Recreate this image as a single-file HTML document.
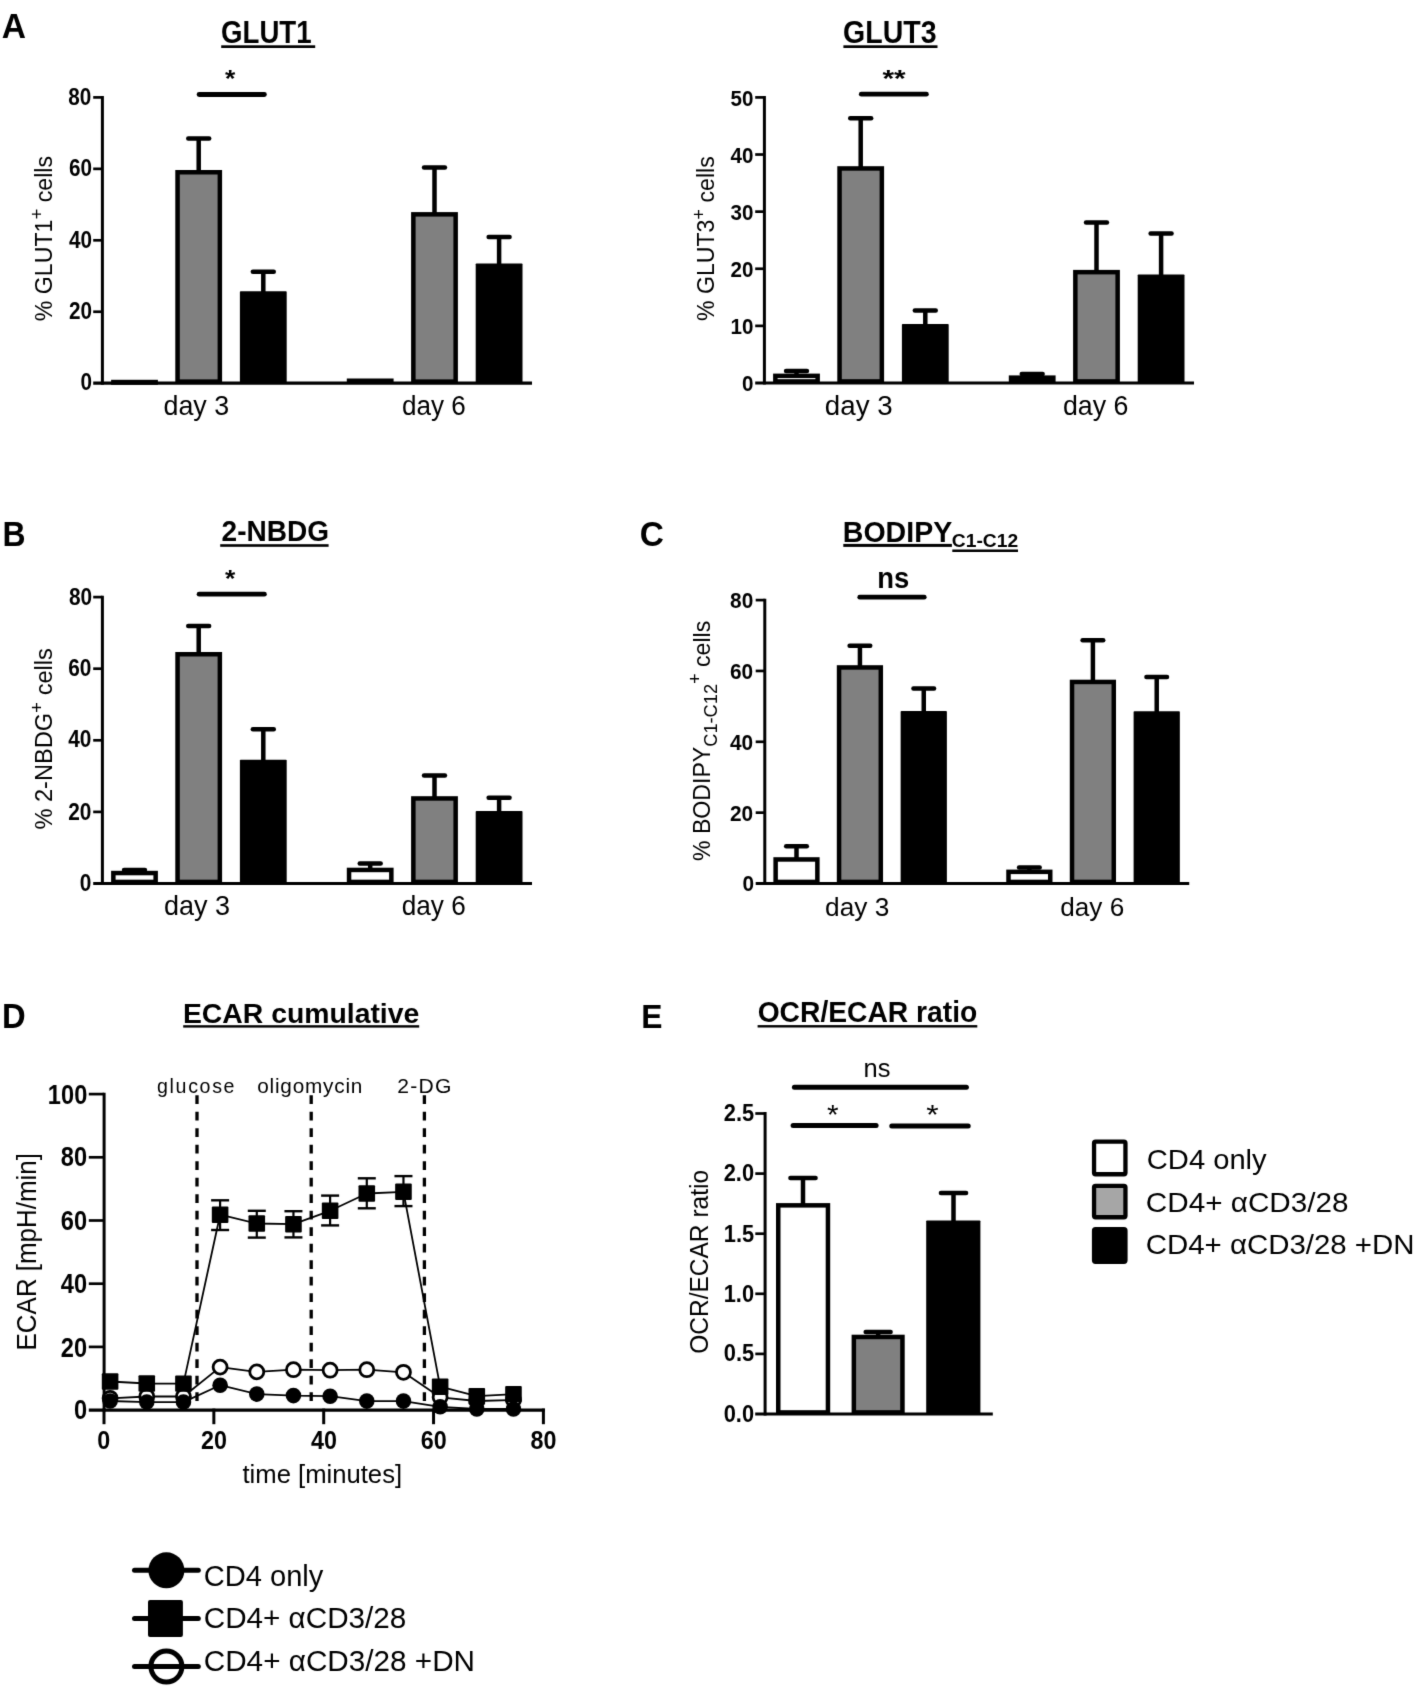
<!DOCTYPE html>
<html><head><meta charset="utf-8"><style>
html,body{margin:0;padding:0;background:#fff;overflow:hidden;}
svg{display:block;filter:grayscale(1);}
</style></head><body>
<svg width="1417" height="1688" viewBox="0 0 1417 1688" font-family='"Liberation Sans", sans-serif'>
<defs><filter id="bl" x="0" y="0" width="1" height="1" color-interpolation-filters="sRGB"><feConvolveMatrix order="3" kernelMatrix="0.0115 0.084 0.0115 0.084 0.618 0.084 0.0115 0.084 0.0115" edgeMode="duplicate"/></filter></defs><g filter="url(#bl)">
<rect width="1417" height="1688" fill="#fff"/>
<rect x="221.20" y="45.30" width="94.00" height="2.70" fill="#000" />
<rect x="843.40" y="45.30" width="94.10" height="2.70" fill="#000" />
<rect x="220.20" y="544.20" width="108.40" height="2.60" fill="#000" />
<rect x="843.30" y="543.90" width="108.60" height="3.00" fill="#000" />
<rect x="952.30" y="549.50" width="65.70" height="2.50" fill="#000" />
<rect x="183.20" y="1025.20" width="236.00" height="2.40" fill="#000" />
<rect x="757.60" y="1025.10" width="219.70" height="2.40" fill="#000" />
<line x1="102.40" y1="96.00" x2="102.40" y2="384.70" stroke="#000" stroke-width="3" stroke-linecap="butt" />
<line x1="93.20" y1="383.20" x2="532.00" y2="383.20" stroke="#000" stroke-width="3.2" stroke-linecap="butt" />
<line x1="93.20" y1="311.75" x2="102.40" y2="311.75" stroke="#000" stroke-width="2.7" stroke-linecap="butt" />
<line x1="93.20" y1="240.30" x2="102.40" y2="240.30" stroke="#000" stroke-width="2.7" stroke-linecap="butt" />
<line x1="93.20" y1="168.85" x2="102.40" y2="168.85" stroke="#000" stroke-width="2.7" stroke-linecap="butt" />
<line x1="93.20" y1="97.40" x2="102.40" y2="97.40" stroke="#000" stroke-width="2.7" stroke-linecap="butt" />
<rect x="113.35" y="382.05" width="42.30" height="0.50" fill="#fff" stroke="#000" stroke-width="4.5"/>
<line x1="198.70" y1="171.00" x2="198.70" y2="138.60" stroke="#000" stroke-width="4.5" stroke-linecap="butt" />
<line x1="188.25" y1="138.60" x2="209.15" y2="138.60" stroke="#000" stroke-width="4.5" stroke-linecap="round" />
<rect x="177.55" y="172.25" width="42.30" height="209.38" fill="#808080" stroke="#000" stroke-width="4.5"/>
<line x1="263.30" y1="292.20" x2="263.30" y2="271.80" stroke="#000" stroke-width="4.5" stroke-linecap="butt" />
<line x1="252.85" y1="271.80" x2="273.75" y2="271.80" stroke="#000" stroke-width="4.5" stroke-linecap="round" />
<rect x="239.90" y="291.20" width="46.80" height="92.00" fill="#000" rx="0.8"/>
<rect x="349.05" y="380.75" width="42.30" height="0.87" fill="#fff" stroke="#000" stroke-width="4.5"/>
<line x1="434.50" y1="213.10" x2="434.50" y2="167.50" stroke="#000" stroke-width="4.5" stroke-linecap="butt" />
<line x1="424.05" y1="167.50" x2="444.95" y2="167.50" stroke="#000" stroke-width="4.5" stroke-linecap="round" />
<rect x="413.35" y="214.35" width="42.30" height="167.28" fill="#808080" stroke="#000" stroke-width="4.5"/>
<line x1="499.10" y1="264.50" x2="499.10" y2="237.00" stroke="#000" stroke-width="4.5" stroke-linecap="butt" />
<line x1="488.65" y1="237.00" x2="509.55" y2="237.00" stroke="#000" stroke-width="4.5" stroke-linecap="round" />
<rect x="475.70" y="263.50" width="46.80" height="119.70" fill="#000" rx="0.8"/>
<line x1="199.10" y1="94.50" x2="264.40" y2="94.50" stroke="#000" stroke-width="4.8" stroke-linecap="round" />
<line x1="764.40" y1="96.00" x2="764.40" y2="384.50" stroke="#000" stroke-width="3" stroke-linecap="butt" />
<line x1="755.20" y1="383.00" x2="1194.00" y2="383.00" stroke="#000" stroke-width="3.2" stroke-linecap="butt" />
<line x1="755.20" y1="325.88" x2="764.40" y2="325.88" stroke="#000" stroke-width="2.7" stroke-linecap="butt" />
<line x1="755.20" y1="268.76" x2="764.40" y2="268.76" stroke="#000" stroke-width="2.7" stroke-linecap="butt" />
<line x1="755.20" y1="211.64" x2="764.40" y2="211.64" stroke="#000" stroke-width="2.7" stroke-linecap="butt" />
<line x1="755.20" y1="154.52" x2="764.40" y2="154.52" stroke="#000" stroke-width="2.7" stroke-linecap="butt" />
<line x1="755.20" y1="97.40" x2="764.40" y2="97.40" stroke="#000" stroke-width="2.7" stroke-linecap="butt" />
<line x1="796.50" y1="374.60" x2="796.50" y2="371.00" stroke="#000" stroke-width="4.5" stroke-linecap="butt" />
<line x1="786.05" y1="371.00" x2="806.95" y2="371.00" stroke="#000" stroke-width="4.5" stroke-linecap="round" />
<rect x="775.35" y="375.85" width="42.30" height="5.57" fill="#fff" stroke="#000" stroke-width="4.5"/>
<line x1="860.70" y1="167.20" x2="860.70" y2="118.30" stroke="#000" stroke-width="4.5" stroke-linecap="butt" />
<line x1="850.25" y1="118.30" x2="871.15" y2="118.30" stroke="#000" stroke-width="4.5" stroke-linecap="round" />
<rect x="839.55" y="168.45" width="42.30" height="212.98" fill="#808080" stroke="#000" stroke-width="4.5"/>
<line x1="925.30" y1="324.90" x2="925.30" y2="310.60" stroke="#000" stroke-width="4.5" stroke-linecap="butt" />
<line x1="914.85" y1="310.60" x2="935.75" y2="310.60" stroke="#000" stroke-width="4.5" stroke-linecap="round" />
<rect x="901.90" y="323.90" width="46.80" height="59.10" fill="#000" rx="0.8"/>
<line x1="1032.20" y1="376.40" x2="1032.20" y2="374.00" stroke="#000" stroke-width="4.5" stroke-linecap="butt" />
<line x1="1021.75" y1="374.00" x2="1042.65" y2="374.00" stroke="#000" stroke-width="4.5" stroke-linecap="round" />
<rect x="1011.05" y="377.65" width="42.30" height="3.78" fill="#fff" stroke="#000" stroke-width="4.5"/>
<line x1="1096.50" y1="270.90" x2="1096.50" y2="222.50" stroke="#000" stroke-width="4.5" stroke-linecap="butt" />
<line x1="1086.05" y1="222.50" x2="1106.95" y2="222.50" stroke="#000" stroke-width="4.5" stroke-linecap="round" />
<rect x="1075.35" y="272.15" width="42.30" height="109.28" fill="#808080" stroke="#000" stroke-width="4.5"/>
<line x1="1161.10" y1="275.50" x2="1161.10" y2="233.60" stroke="#000" stroke-width="4.5" stroke-linecap="butt" />
<line x1="1150.65" y1="233.60" x2="1171.55" y2="233.60" stroke="#000" stroke-width="4.5" stroke-linecap="round" />
<rect x="1137.70" y="274.50" width="46.80" height="108.50" fill="#000" rx="0.8"/>
<line x1="861.30" y1="94.20" x2="926.40" y2="94.20" stroke="#000" stroke-width="4.8" stroke-linecap="round" />
<line x1="102.40" y1="595.70" x2="102.40" y2="885.00" stroke="#000" stroke-width="3" stroke-linecap="butt" />
<line x1="93.20" y1="883.50" x2="532.00" y2="883.50" stroke="#000" stroke-width="3.2" stroke-linecap="butt" />
<line x1="93.20" y1="811.90" x2="102.40" y2="811.90" stroke="#000" stroke-width="2.7" stroke-linecap="butt" />
<line x1="93.20" y1="740.30" x2="102.40" y2="740.30" stroke="#000" stroke-width="2.7" stroke-linecap="butt" />
<line x1="93.20" y1="668.70" x2="102.40" y2="668.70" stroke="#000" stroke-width="2.7" stroke-linecap="butt" />
<line x1="93.20" y1="597.10" x2="102.40" y2="597.10" stroke="#000" stroke-width="2.7" stroke-linecap="butt" />
<line x1="134.50" y1="871.80" x2="134.50" y2="869.90" stroke="#000" stroke-width="4.5" stroke-linecap="butt" />
<line x1="124.05" y1="869.90" x2="144.95" y2="869.90" stroke="#000" stroke-width="4.5" stroke-linecap="round" />
<rect x="113.35" y="873.05" width="42.30" height="8.88" fill="#fff" stroke="#000" stroke-width="4.5"/>
<line x1="198.70" y1="653.00" x2="198.70" y2="626.00" stroke="#000" stroke-width="4.5" stroke-linecap="butt" />
<line x1="188.25" y1="626.00" x2="209.15" y2="626.00" stroke="#000" stroke-width="4.5" stroke-linecap="round" />
<rect x="177.55" y="654.25" width="42.30" height="227.68" fill="#808080" stroke="#000" stroke-width="4.5"/>
<line x1="263.30" y1="760.70" x2="263.30" y2="729.20" stroke="#000" stroke-width="4.5" stroke-linecap="butt" />
<line x1="252.85" y1="729.20" x2="273.75" y2="729.20" stroke="#000" stroke-width="4.5" stroke-linecap="round" />
<rect x="239.90" y="759.70" width="46.80" height="123.80" fill="#000" rx="0.8"/>
<line x1="370.20" y1="868.70" x2="370.20" y2="863.50" stroke="#000" stroke-width="4.5" stroke-linecap="butt" />
<line x1="359.75" y1="863.50" x2="380.65" y2="863.50" stroke="#000" stroke-width="4.5" stroke-linecap="round" />
<rect x="349.05" y="869.95" width="42.30" height="11.97" fill="#fff" stroke="#000" stroke-width="4.5"/>
<line x1="434.50" y1="797.20" x2="434.50" y2="775.60" stroke="#000" stroke-width="4.5" stroke-linecap="butt" />
<line x1="424.05" y1="775.60" x2="444.95" y2="775.60" stroke="#000" stroke-width="4.5" stroke-linecap="round" />
<rect x="413.35" y="798.45" width="42.30" height="83.47" fill="#808080" stroke="#000" stroke-width="4.5"/>
<line x1="499.10" y1="812.10" x2="499.10" y2="797.80" stroke="#000" stroke-width="4.5" stroke-linecap="butt" />
<line x1="488.65" y1="797.80" x2="509.55" y2="797.80" stroke="#000" stroke-width="4.5" stroke-linecap="round" />
<rect x="475.70" y="811.10" width="46.80" height="72.40" fill="#000" rx="0.8"/>
<line x1="199.10" y1="594.20" x2="264.40" y2="594.20" stroke="#000" stroke-width="4.8" stroke-linecap="round" />
<line x1="764.79" y1="598.70" x2="764.79" y2="885.00" stroke="#000" stroke-width="3" stroke-linecap="butt" />
<line x1="755.70" y1="883.50" x2="1189.23" y2="883.50" stroke="#000" stroke-width="3.2" stroke-linecap="butt" />
<line x1="755.70" y1="812.65" x2="764.79" y2="812.65" stroke="#000" stroke-width="2.7" stroke-linecap="butt" />
<line x1="755.70" y1="741.80" x2="764.79" y2="741.80" stroke="#000" stroke-width="2.7" stroke-linecap="butt" />
<line x1="755.70" y1="670.95" x2="764.79" y2="670.95" stroke="#000" stroke-width="2.7" stroke-linecap="butt" />
<line x1="755.70" y1="600.10" x2="764.79" y2="600.10" stroke="#000" stroke-width="2.7" stroke-linecap="butt" />
<line x1="796.50" y1="858.20" x2="796.50" y2="846.20" stroke="#000" stroke-width="4.5" stroke-linecap="butt" />
<line x1="786.20" y1="846.20" x2="806.80" y2="846.20" stroke="#000" stroke-width="4.5" stroke-linecap="round" />
<rect x="775.63" y="859.45" width="41.74" height="22.47" fill="#fff" stroke="#000" stroke-width="4.5"/>
<line x1="859.93" y1="666.20" x2="859.93" y2="645.80" stroke="#000" stroke-width="4.5" stroke-linecap="butt" />
<line x1="849.63" y1="645.80" x2="870.23" y2="645.80" stroke="#000" stroke-width="4.5" stroke-linecap="round" />
<rect x="839.06" y="667.45" width="41.74" height="214.47" fill="#808080" stroke="#000" stroke-width="4.5"/>
<line x1="923.75" y1="712.10" x2="923.75" y2="688.40" stroke="#000" stroke-width="4.5" stroke-linecap="butt" />
<line x1="913.46" y1="688.40" x2="934.05" y2="688.40" stroke="#000" stroke-width="4.5" stroke-linecap="round" />
<rect x="900.64" y="711.10" width="46.24" height="172.40" fill="#000" rx="0.8"/>
<line x1="1029.37" y1="870.60" x2="1029.37" y2="867.50" stroke="#000" stroke-width="4.5" stroke-linecap="butt" />
<line x1="1019.07" y1="867.50" x2="1039.67" y2="867.50" stroke="#000" stroke-width="4.5" stroke-linecap="round" />
<rect x="1008.50" y="871.85" width="41.74" height="10.07" fill="#fff" stroke="#000" stroke-width="4.5"/>
<line x1="1092.90" y1="680.70" x2="1092.90" y2="640.20" stroke="#000" stroke-width="4.5" stroke-linecap="butt" />
<line x1="1082.60" y1="640.20" x2="1103.20" y2="640.20" stroke="#000" stroke-width="4.5" stroke-linecap="round" />
<rect x="1072.03" y="681.95" width="41.74" height="199.97" fill="#808080" stroke="#000" stroke-width="4.5"/>
<line x1="1156.72" y1="712.20" x2="1156.72" y2="677.00" stroke="#000" stroke-width="4.5" stroke-linecap="butt" />
<line x1="1146.43" y1="677.00" x2="1167.02" y2="677.00" stroke="#000" stroke-width="4.5" stroke-linecap="round" />
<rect x="1133.61" y="711.20" width="46.24" height="172.30" fill="#000" rx="0.8"/>
<line x1="859.76" y1="597.20" x2="924.22" y2="597.20" stroke="#000" stroke-width="4.8" stroke-linecap="round" />
<line x1="104.10" y1="1092.70" x2="104.10" y2="1411.60" stroke="#000" stroke-width="3" stroke-linecap="butt" />
<line x1="88.80" y1="1410.10" x2="544.90" y2="1410.10" stroke="#000" stroke-width="3.2" stroke-linecap="butt" />
<line x1="88.80" y1="1346.90" x2="104.10" y2="1346.90" stroke="#000" stroke-width="2.7" stroke-linecap="butt" />
<line x1="88.80" y1="1283.70" x2="104.10" y2="1283.70" stroke="#000" stroke-width="2.7" stroke-linecap="butt" />
<line x1="88.80" y1="1220.50" x2="104.10" y2="1220.50" stroke="#000" stroke-width="2.7" stroke-linecap="butt" />
<line x1="88.80" y1="1157.30" x2="104.10" y2="1157.30" stroke="#000" stroke-width="2.7" stroke-linecap="butt" />
<line x1="88.80" y1="1094.10" x2="104.10" y2="1094.10" stroke="#000" stroke-width="2.7" stroke-linecap="butt" />
<line x1="104.00" y1="1408.60" x2="104.00" y2="1424.20" stroke="#000" stroke-width="3" stroke-linecap="butt" />
<line x1="213.85" y1="1408.60" x2="213.85" y2="1424.20" stroke="#000" stroke-width="3" stroke-linecap="butt" />
<line x1="323.70" y1="1408.60" x2="323.70" y2="1424.20" stroke="#000" stroke-width="3" stroke-linecap="butt" />
<line x1="433.55" y1="1408.60" x2="433.55" y2="1424.20" stroke="#000" stroke-width="3" stroke-linecap="butt" />
<line x1="543.40" y1="1408.60" x2="543.40" y2="1424.20" stroke="#000" stroke-width="3" stroke-linecap="butt" />
<line x1="197.00" y1="1095.30" x2="197.00" y2="1408.60" stroke="#000" stroke-width="3.3" stroke-linecap="butt" stroke-dasharray="8.8 7.7"/>
<line x1="311.20" y1="1095.30" x2="311.20" y2="1408.60" stroke="#000" stroke-width="3.3" stroke-linecap="butt" stroke-dasharray="8.8 7.7"/>
<line x1="424.40" y1="1095.30" x2="424.40" y2="1408.60" stroke="#000" stroke-width="3.3" stroke-linecap="butt" stroke-dasharray="8.8 7.7"/>
<polyline points="110.10,1398.30 146.77,1396.50 183.44,1396.50 220.11,1367.10 256.78,1371.90 293.45,1369.70 330.12,1370.20 366.79,1369.70 403.46,1372.30 440.13,1397.30 476.80,1401.00 513.47,1400.00" fill="none" stroke="#000" stroke-width="1.8" stroke-linejoin="round"/>
<polyline points="110.10,1401.00 146.77,1402.10 183.44,1402.10 220.11,1385.20 256.78,1394.10 293.45,1395.60 330.12,1396.20 366.79,1401.10 403.46,1401.10 440.13,1406.80 476.80,1409.00 513.47,1409.00" fill="none" stroke="#000" stroke-width="1.8" stroke-linejoin="round"/>
<polyline points="110.10,1381.50 146.77,1383.50 183.44,1383.60 220.11,1214.70 256.78,1223.50 293.45,1224.20 330.12,1210.80 366.79,1193.50 403.46,1191.80 440.13,1386.70 476.80,1396.20 513.47,1394.10" fill="none" stroke="#000" stroke-width="1.8" stroke-linejoin="round"/>
<line x1="220.11" y1="1200.30" x2="220.11" y2="1230.00" stroke="#000" stroke-width="2.2" stroke-linecap="butt" />
<line x1="211.11" y1="1200.30" x2="229.11" y2="1200.30" stroke="#000" stroke-width="2.4" stroke-linecap="butt" />
<line x1="211.11" y1="1230.00" x2="229.11" y2="1230.00" stroke="#000" stroke-width="2.4" stroke-linecap="butt" />
<line x1="256.78" y1="1210.80" x2="256.78" y2="1237.60" stroke="#000" stroke-width="2.2" stroke-linecap="butt" />
<line x1="247.78" y1="1210.80" x2="265.78" y2="1210.80" stroke="#000" stroke-width="2.4" stroke-linecap="butt" />
<line x1="247.78" y1="1237.60" x2="265.78" y2="1237.60" stroke="#000" stroke-width="2.4" stroke-linecap="butt" />
<line x1="293.45" y1="1211.20" x2="293.45" y2="1237.40" stroke="#000" stroke-width="2.2" stroke-linecap="butt" />
<line x1="284.45" y1="1211.20" x2="302.45" y2="1211.20" stroke="#000" stroke-width="2.4" stroke-linecap="butt" />
<line x1="284.45" y1="1237.40" x2="302.45" y2="1237.40" stroke="#000" stroke-width="2.4" stroke-linecap="butt" />
<line x1="330.12" y1="1195.60" x2="330.12" y2="1225.40" stroke="#000" stroke-width="2.2" stroke-linecap="butt" />
<line x1="321.12" y1="1195.60" x2="339.12" y2="1195.60" stroke="#000" stroke-width="2.4" stroke-linecap="butt" />
<line x1="321.12" y1="1225.40" x2="339.12" y2="1225.40" stroke="#000" stroke-width="2.4" stroke-linecap="butt" />
<line x1="366.79" y1="1178.30" x2="366.79" y2="1208.30" stroke="#000" stroke-width="2.2" stroke-linecap="butt" />
<line x1="357.79" y1="1178.30" x2="375.79" y2="1178.30" stroke="#000" stroke-width="2.4" stroke-linecap="butt" />
<line x1="357.79" y1="1208.30" x2="375.79" y2="1208.30" stroke="#000" stroke-width="2.4" stroke-linecap="butt" />
<line x1="403.46" y1="1176.10" x2="403.46" y2="1206.10" stroke="#000" stroke-width="2.2" stroke-linecap="butt" />
<line x1="394.46" y1="1176.10" x2="412.46" y2="1176.10" stroke="#000" stroke-width="2.4" stroke-linecap="butt" />
<line x1="394.46" y1="1206.10" x2="412.46" y2="1206.10" stroke="#000" stroke-width="2.4" stroke-linecap="butt" />
<circle cx="110.10" cy="1398.30" r="7.0" fill="#fff" stroke="#000" stroke-width="2.8"/>
<circle cx="146.77" cy="1396.50" r="7.0" fill="#fff" stroke="#000" stroke-width="2.8"/>
<circle cx="183.44" cy="1396.50" r="7.0" fill="#fff" stroke="#000" stroke-width="2.8"/>
<circle cx="220.11" cy="1367.10" r="7.0" fill="#fff" stroke="#000" stroke-width="2.8"/>
<circle cx="256.78" cy="1371.90" r="7.0" fill="#fff" stroke="#000" stroke-width="2.8"/>
<circle cx="293.45" cy="1369.70" r="7.0" fill="#fff" stroke="#000" stroke-width="2.8"/>
<circle cx="330.12" cy="1370.20" r="7.0" fill="#fff" stroke="#000" stroke-width="2.8"/>
<circle cx="366.79" cy="1369.70" r="7.0" fill="#fff" stroke="#000" stroke-width="2.8"/>
<circle cx="403.46" cy="1372.30" r="7.0" fill="#fff" stroke="#000" stroke-width="2.8"/>
<circle cx="440.13" cy="1397.30" r="7.0" fill="#fff" stroke="#000" stroke-width="2.8"/>
<circle cx="476.80" cy="1401.00" r="7.0" fill="#fff" stroke="#000" stroke-width="2.8"/>
<circle cx="513.47" cy="1400.00" r="7.0" fill="#fff" stroke="#000" stroke-width="2.8"/>
<circle cx="110.10" cy="1401.00" r="7.8" fill="#000"/>
<circle cx="146.77" cy="1402.10" r="7.8" fill="#000"/>
<circle cx="183.44" cy="1402.10" r="7.8" fill="#000"/>
<circle cx="220.11" cy="1385.20" r="7.8" fill="#000"/>
<circle cx="256.78" cy="1394.10" r="7.8" fill="#000"/>
<circle cx="293.45" cy="1395.60" r="7.8" fill="#000"/>
<circle cx="330.12" cy="1396.20" r="7.8" fill="#000"/>
<circle cx="366.79" cy="1401.10" r="7.8" fill="#000"/>
<circle cx="403.46" cy="1401.10" r="7.8" fill="#000"/>
<circle cx="440.13" cy="1406.80" r="7.8" fill="#000"/>
<circle cx="476.80" cy="1409.00" r="7.8" fill="#000"/>
<circle cx="513.47" cy="1409.00" r="7.8" fill="#000"/>
<rect x="101.80" y="1373.30" width="16.6" height="16.4" rx="1" fill="#000"/>
<rect x="138.47" y="1375.30" width="16.6" height="16.4" rx="1" fill="#000"/>
<rect x="175.14" y="1375.40" width="16.6" height="16.4" rx="1" fill="#000"/>
<rect x="211.81" y="1206.50" width="16.6" height="16.4" rx="1" fill="#000"/>
<rect x="248.48" y="1215.30" width="16.6" height="16.4" rx="1" fill="#000"/>
<rect x="285.15" y="1216.00" width="16.6" height="16.4" rx="1" fill="#000"/>
<rect x="321.82" y="1202.60" width="16.6" height="16.4" rx="1" fill="#000"/>
<rect x="358.49" y="1185.30" width="16.6" height="16.4" rx="1" fill="#000"/>
<rect x="395.16" y="1183.60" width="16.6" height="16.4" rx="1" fill="#000"/>
<rect x="431.83" y="1378.50" width="16.6" height="16.4" rx="1" fill="#000"/>
<rect x="468.50" y="1388.00" width="16.6" height="16.4" rx="1" fill="#000"/>
<rect x="505.17" y="1385.90" width="16.6" height="16.4" rx="1" fill="#000"/>
<line x1="765.10" y1="1112.10" x2="765.10" y2="1415.50" stroke="#000" stroke-width="3" stroke-linecap="butt" />
<line x1="755.20" y1="1414.00" x2="992.80" y2="1414.00" stroke="#000" stroke-width="3.2" stroke-linecap="butt" />
<line x1="755.30" y1="1353.90" x2="765.10" y2="1353.90" stroke="#000" stroke-width="2.7" stroke-linecap="butt" />
<line x1="755.30" y1="1293.80" x2="765.10" y2="1293.80" stroke="#000" stroke-width="2.7" stroke-linecap="butt" />
<line x1="755.30" y1="1233.70" x2="765.10" y2="1233.70" stroke="#000" stroke-width="2.7" stroke-linecap="butt" />
<line x1="755.30" y1="1173.60" x2="765.10" y2="1173.60" stroke="#000" stroke-width="2.7" stroke-linecap="butt" />
<line x1="755.30" y1="1113.50" x2="765.10" y2="1113.50" stroke="#000" stroke-width="2.7" stroke-linecap="butt" />
<line x1="803.00" y1="1204.10" x2="803.00" y2="1178.00" stroke="#000" stroke-width="4.5" stroke-linecap="butt" />
<line x1="790.45" y1="1178.00" x2="815.55" y2="1178.00" stroke="#000" stroke-width="4.5" stroke-linecap="round" />
<rect x="778.25" y="1205.35" width="49.70" height="207.08" fill="#fff" stroke="#000" stroke-width="4.5"/>
<line x1="878.15" y1="1335.70" x2="878.15" y2="1332.00" stroke="#000" stroke-width="4.5" stroke-linecap="butt" />
<line x1="865.70" y1="1332.00" x2="890.60" y2="1332.00" stroke="#000" stroke-width="4.5" stroke-linecap="round" />
<rect x="853.85" y="1336.95" width="48.60" height="75.47" fill="#808080" stroke="#000" stroke-width="4.5"/>
<line x1="953.50" y1="1221.50" x2="953.50" y2="1193.10" stroke="#000" stroke-width="4.5" stroke-linecap="butt" />
<line x1="940.95" y1="1193.10" x2="966.05" y2="1193.10" stroke="#000" stroke-width="4.5" stroke-linecap="round" />
<rect x="926.20" y="1220.50" width="54.20" height="193.50" fill="#000" rx="0.8"/>
<line x1="794.40" y1="1087.30" x2="966.40" y2="1087.30" stroke="#000" stroke-width="5" stroke-linecap="round" />
<line x1="793.10" y1="1125.50" x2="876.10" y2="1125.50" stroke="#000" stroke-width="5" stroke-linecap="round" />
<line x1="891.80" y1="1126.00" x2="968.20" y2="1126.00" stroke="#000" stroke-width="5" stroke-linecap="round" />
<rect x="1094.05" y="1141.65" width="31.40" height="32.60" fill="#fff" stroke="#000" stroke-width="4.3" rx="1.5"/>
<rect x="1094.05" y="1185.85" width="31.40" height="31.40" fill="#a6a6a6" stroke="#000" stroke-width="4.3" rx="1.5"/>
<rect x="1094.05" y="1229.15" width="31.40" height="32.60" fill="#000" stroke="#000" stroke-width="4.3" rx="1.5"/>
<line x1="134.50" y1="1570.30" x2="198.30" y2="1570.30" stroke="#000" stroke-width="5" stroke-linecap="round" />
<circle cx="166.4" cy="1570.3" r="18" fill="#000"/>
<line x1="134.50" y1="1618.40" x2="198.30" y2="1618.40" stroke="#000" stroke-width="5" stroke-linecap="round" />
<rect x="148.0" y="1600.0" width="34.9" height="36.9" rx="2" fill="#000"/>
<line x1="134.50" y1="1666.60" x2="198.30" y2="1666.60" stroke="#000" stroke-width="5" stroke-linecap="round" />
<circle cx="166.4" cy="1666.6" r="15.5" fill="none" stroke="#000" stroke-width="5"/>
<text id="L_A" transform="translate(1.70,37.64) scale(0.9710,1)" font-size="34.54" font-weight="bold" text-anchor="start">A</text>
<text id="L_B" transform="translate(2.49,545.60) scale(0.9103,1)" font-size="35.07" font-weight="bold" text-anchor="start">B</text>
<text id="L_C" transform="translate(639.65,546.08) scale(0.9450,1)" font-size="35.34" font-weight="bold" text-anchor="start">C</text>
<text id="L_D" transform="translate(2.09,1027.60) scale(0.9343,1)" font-size="35.07" font-weight="bold" text-anchor="start">D</text>
<text id="L_E" transform="translate(641.20,1027.90) scale(0.9444,1)" font-size="33.72" font-weight="bold" text-anchor="start">E</text>
<text id="T_GLUT1" transform="translate(221.06,43.17) scale(0.9016,1)" font-size="30.64" font-weight="bold" text-anchor="start">GLUT1</text>
<text id="T_GLUT3" transform="translate(843.09,43.17) scale(0.9308,1)" font-size="30.64" font-weight="bold" text-anchor="start">GLUT3</text>
<text id="T_NBDG" transform="translate(221.58,541.37) scale(0.9599,1)" font-size="29.21" font-weight="bold" text-anchor="start">2-NBDG</text>
<text id="T_BODIPY" transform="translate(842.79,542.27) scale(0.9518,1)" font-size="29.99" font-weight="bold" text-anchor="start">BODIPY</text>
<text id="T_C1C12" transform="translate(951.83,547.41) scale(1.0255,1)" font-size="18.77" font-weight="bold" text-anchor="start">C1-C12</text>
<text id="T_ECAR" transform="translate(182.92,1022.56) scale(0.9942,1)" font-size="28.53" font-weight="bold" text-anchor="start">ECAR cumulative</text>
<text id="T_OCR" transform="translate(757.63,1021.74) scale(0.9865,1)" font-size="28.64" font-weight="bold" text-anchor="start">OCR/ECAR ratio</text>
<text id="S_A" transform="translate(230.06,86.57) scale(1.0855,1)" font-size="24.40" font-weight="bold" text-anchor="middle">*</text>
<text id="S_G3" transform="translate(894.00,87.29) scale(1.2264,1)" font-size="24.30" font-weight="bold" text-anchor="middle">**</text>
<text id="S_B" transform="translate(230.06,586.57) scale(1.0855,1)" font-size="24.40" font-weight="bold" text-anchor="middle">*</text>
<text id="S_C" transform="translate(893.24,587.58) scale(0.9161,1)" font-size="29.96" font-weight="bold" text-anchor="middle">ns</text>
<text id="S_Ens" transform="translate(877.00,1076.69) scale(0.9572,1)" font-size="26.62" font-weight="normal" text-anchor="middle">ns</text>
<text id="S_E1" transform="translate(832.79,1123.70) scale(1.1092,1)" font-size="26.77" font-weight="normal" text-anchor="middle">*</text>
<text id="S_E2" transform="translate(932.34,1123.72) scale(1.1930,1)" font-size="26.77" font-weight="normal" text-anchor="middle">*</text>
<text id="A_t0" transform="translate(92.06,390.43) scale(0.8735,1)" font-size="23.75" font-weight="bold" text-anchor="end">0</text>
<text id="A_t1" transform="translate(92.06,319.17) scale(0.8735,1)" font-size="23.75" font-weight="bold" text-anchor="end">20</text>
<text id="A_t2" transform="translate(92.06,248.00) scale(0.8735,1)" font-size="23.75" font-weight="bold" text-anchor="end">40</text>
<text id="A_t3" transform="translate(92.06,175.83) scale(0.8735,1)" font-size="23.75" font-weight="bold" text-anchor="end">60</text>
<text id="A_t4" transform="translate(91.37,104.58) scale(0.8735,1)" font-size="23.75" font-weight="bold" text-anchor="end">80</text>
<text id="A_d3" transform="translate(196.33,414.50) scale(0.9682,1)" font-size="27.72" font-weight="normal" text-anchor="middle">day 3</text>
<text id="A_d6" transform="translate(433.78,414.50) scale(0.9408,1)" font-size="27.72" font-weight="normal" text-anchor="middle">day 6</text>
<text id="A_ylab" transform="translate(51.96,238.61) rotate(-90) scale(0.9869,1)" font-size="23.48" font-weight="normal" text-anchor="middle">% GLUT1<tspan dy="-0.49em" font-size="0.8em">+</tspan><tspan dy="0.39em"> cells</tspan></text>
<text id="G_t0" transform="translate(753.50,390.52) scale(0.9058,1)" font-size="22.77" font-weight="bold" text-anchor="end">0</text>
<text id="G_t1" transform="translate(753.50,334.25) scale(0.9058,1)" font-size="22.77" font-weight="bold" text-anchor="end">10</text>
<text id="G_t2" transform="translate(753.50,277.04) scale(0.9058,1)" font-size="22.77" font-weight="bold" text-anchor="end">20</text>
<text id="G_t3" transform="translate(753.50,219.84) scale(0.9058,1)" font-size="22.77" font-weight="bold" text-anchor="end">30</text>
<text id="G_t4" transform="translate(753.50,162.59) scale(0.9058,1)" font-size="22.77" font-weight="bold" text-anchor="end">40</text>
<text id="G_t5" transform="translate(753.53,105.81) scale(0.9058,1)" font-size="22.77" font-weight="bold" text-anchor="end">50</text>
<text id="G_d3" transform="translate(858.69,414.50) scale(0.9992,1)" font-size="27.72" font-weight="normal" text-anchor="middle">day 3</text>
<text id="G_d6" transform="translate(1095.70,414.50) scale(0.9650,1)" font-size="27.72" font-weight="normal" text-anchor="middle">day 6</text>
<text id="G_ylab" transform="translate(714.35,238.65) rotate(-90) scale(0.9653,1)" font-size="23.92" font-weight="normal" text-anchor="middle">% GLUT3<tspan dy="-0.49em" font-size="0.8em">+</tspan><tspan dy="0.39em"> cells</tspan></text>
<text id="B_t0" transform="translate(91.42,890.86) scale(0.8774,1)" font-size="23.79" font-weight="bold" text-anchor="end">0</text>
<text id="B_t1" transform="translate(91.42,819.69) scale(0.8774,1)" font-size="23.79" font-weight="bold" text-anchor="end">20</text>
<text id="B_t2" transform="translate(91.42,747.48) scale(0.8774,1)" font-size="23.79" font-weight="bold" text-anchor="end">40</text>
<text id="B_t3" transform="translate(91.42,676.20) scale(0.8774,1)" font-size="23.79" font-weight="bold" text-anchor="end">60</text>
<text id="B_t4" transform="translate(92.09,604.91) scale(0.8774,1)" font-size="23.79" font-weight="bold" text-anchor="end">80</text>
<text id="B_d3" transform="translate(196.92,914.50) scale(0.9749,1)" font-size="27.72" font-weight="normal" text-anchor="middle">day 3</text>
<text id="B_d6" transform="translate(433.75,914.50) scale(0.9443,1)" font-size="27.72" font-weight="normal" text-anchor="middle">day 6</text>
<text id="B_ylab" transform="translate(52.10,738.84) rotate(-90) scale(1.0130,1)" font-size="23.28" font-weight="normal" text-anchor="middle">% 2-NBDG<tspan dy="-0.49em" font-size="0.8em">+</tspan><tspan dy="0.39em"> cells</tspan></text>
<text id="C_t0" transform="translate(754.15,891.47) scale(0.9163,1)" font-size="22.76" font-weight="bold" text-anchor="end">0</text>
<text id="C_t1" transform="translate(753.14,820.50) scale(0.9163,1)" font-size="22.76" font-weight="bold" text-anchor="end">20</text>
<text id="C_t2" transform="translate(753.14,749.74) scale(0.9163,1)" font-size="22.76" font-weight="bold" text-anchor="end">40</text>
<text id="C_t3" transform="translate(753.14,678.66) scale(0.9163,1)" font-size="22.76" font-weight="bold" text-anchor="end">60</text>
<text id="C_t4" transform="translate(753.24,608.08) scale(0.9163,1)" font-size="22.76" font-weight="bold" text-anchor="end">80</text>
<text id="C_d3" transform="translate(857.15,915.64) scale(0.9976,1)" font-size="26.30" font-weight="normal" text-anchor="middle">day 3</text>
<text id="C_d6" transform="translate(1092.20,915.64) scale(0.9943,1)" font-size="26.30" font-weight="normal" text-anchor="middle">day 6</text>
<text id="C_ylab" transform="translate(710.24,740.90) rotate(-90) scale(0.9738,1)" font-size="23.74" font-weight="normal" text-anchor="middle">% BODIPY<tspan dy="0.348em" font-size="0.79em">C1-C12</tspan><tspan dy="-0.853em" font-size="0.78em">+</tspan><tspan dy="0.39em"> cells</tspan></text>
<text id="D_y0" transform="translate(87.03,1419.11) scale(0.8744,1)" font-size="27.04" font-weight="bold" text-anchor="end">0</text>
<text id="D_y1" transform="translate(87.03,1356.72) scale(0.8744,1)" font-size="27.04" font-weight="bold" text-anchor="end">20</text>
<text id="D_y2" transform="translate(87.03,1293.22) scale(0.8744,1)" font-size="27.04" font-weight="bold" text-anchor="end">40</text>
<text id="D_y3" transform="translate(87.03,1229.86) scale(0.8744,1)" font-size="27.04" font-weight="bold" text-anchor="end">60</text>
<text id="D_y4" transform="translate(87.03,1166.45) scale(0.8744,1)" font-size="27.04" font-weight="bold" text-anchor="end">80</text>
<text id="D_y5" transform="translate(87.28,1103.59) scale(0.8744,1)" font-size="27.04" font-weight="bold" text-anchor="end">100</text>
<text id="D_x0" transform="translate(103.75,1448.75) scale(0.8846,1)" font-size="26.34" font-weight="bold" text-anchor="middle">0</text>
<text id="D_x1" transform="translate(213.95,1448.63) scale(0.8846,1)" font-size="26.34" font-weight="bold" text-anchor="middle">20</text>
<text id="D_x2" transform="translate(323.89,1448.63) scale(0.8846,1)" font-size="26.34" font-weight="bold" text-anchor="middle">40</text>
<text id="D_x3" transform="translate(433.82,1448.63) scale(0.8846,1)" font-size="26.34" font-weight="bold" text-anchor="middle">60</text>
<text id="D_x4" transform="translate(543.40,1448.63) scale(0.8846,1)" font-size="26.34" font-weight="bold" text-anchor="middle">80</text>
<text id="D_time" transform="translate(322.28,1483.39) scale(1.0275,1)" font-size="24.96" font-weight="normal" text-anchor="middle">time [minutes]</text>
<text id="D_ylab" transform="translate(36.38,1251.75) rotate(-90) scale(0.9494,1)" font-size="27.32" font-weight="normal" text-anchor="middle">ECAR [mpH/min]</text>
<text id="D_glu" transform="translate(157.02,1093.00) scale(1.0000,1)" font-size="19.61" font-weight="normal" text-anchor="start" letter-spacing="1.65">glucose</text>
<text id="D_oli" transform="translate(257.21,1093.00) scale(1.0000,1)" font-size="20.75" font-weight="normal" text-anchor="start" letter-spacing="0.79">oligomycin</text>
<text id="D_2dg" transform="translate(397.31,1093.00) scale(1.0000,1)" font-size="21.10" font-weight="normal" text-anchor="start" letter-spacing="1.21">2-DG</text>
<text id="E_t0" transform="translate(754.02,1422.00) scale(0.8958,1)" font-size="24.38" font-weight="bold" text-anchor="end">0.0</text>
<text id="E_t1" transform="translate(754.18,1361.32) scale(0.8958,1)" font-size="24.38" font-weight="bold" text-anchor="end">0.5</text>
<text id="E_t2" transform="translate(754.02,1301.61) scale(0.8958,1)" font-size="24.38" font-weight="bold" text-anchor="end">1.0</text>
<text id="E_t3" transform="translate(754.18,1241.91) scale(0.8958,1)" font-size="24.38" font-weight="bold" text-anchor="end">1.5</text>
<text id="E_t4" transform="translate(754.02,1181.21) scale(0.8958,1)" font-size="24.38" font-weight="bold" text-anchor="end">2.0</text>
<text id="E_t5" transform="translate(754.19,1121.30) scale(0.8958,1)" font-size="24.38" font-weight="bold" text-anchor="end">2.5</text>
<text id="E_ylab" transform="translate(708.22,1261.86) rotate(-90) scale(0.9504,1)" font-size="25.80" font-weight="normal" text-anchor="middle">OCR/ECAR ratio</text>
<text id="LR1" transform="translate(1146.77,1169.49) scale(1.0427,1)" font-size="27.97" font-weight="normal" text-anchor="start">CD4 only</text>
<text id="LR2" transform="translate(1145.80,1211.89) scale(1.0615,1)" font-size="27.97" font-weight="normal" text-anchor="start">CD4+ αCD3/28</text>
<text id="LR3" transform="translate(1145.77,1254.29) scale(1.0521,1)" font-size="27.97" font-weight="normal" text-anchor="start">CD4+ αCD3/28 +DN</text>
<text id="LB1" transform="translate(203.68,1585.87) scale(0.9850,1)" font-size="29.57" font-weight="normal" text-anchor="start">CD4 only</text>
<text id="LB2" transform="translate(203.73,1628.07) scale(1.0034,1)" font-size="29.57" font-weight="normal" text-anchor="start">CD4+ αCD3/28</text>
<text id="LB3" transform="translate(203.72,1670.97) scale(1.0049,1)" font-size="29.57" font-weight="normal" text-anchor="start">CD4+ αCD3/28 +DN</text>
</g>
</svg>
</body></html>
